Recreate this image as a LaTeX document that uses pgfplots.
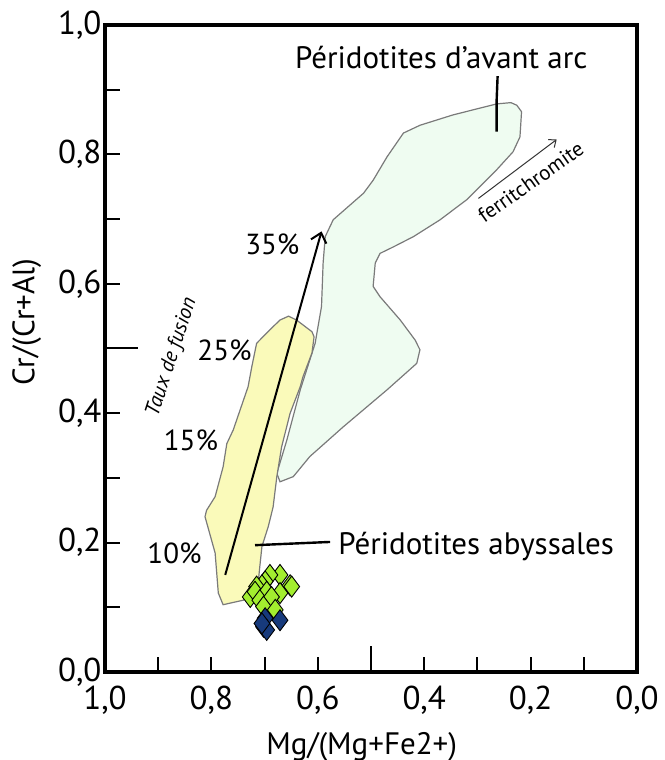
\documentclass[border=0pt]{standalone}
\usepackage{pgfplots}
\pgfplotsset{compat=1.18}
\usepackage{fontspec}
\setmainfont{PT Sans}
\usetikzlibrary{arrows.meta}

\definecolor{yfill}{HTML}{FAFABA}
\definecolor{gfill}{HTML}{EFFCF1}
\definecolor{edge}{HTML}{7A7A7A}
\definecolor{lime}{HTML}{A3EE2F}
\definecolor{navy}{HTML}{173A7C}

\newcommand{\bigfont}{\fontsize{31}{36}\selectfont}
\newcommand{\tickfont}{\fontsize{33}{38}\selectfont}
\newcommand{\midfont}{\fontsize{29}{34}\selectfont}

\begin{document}
\begin{tikzpicture}
\path[use as bounding box] (0,0) rectangle (664pt,760pt);
\begin{axis}[
    at={(105pt,88pt)}, anchor=south west,
    scale only axis, width=532pt, height=647pt,
    x dir=reverse,
    xmin=0, xmax=1, ymin=0, ymax=1,
    xtick={0,0.2,0.4,0.6,0.8,1},
    ytick={0,0.2,0.4,0.6,0.8,1},
    minor xtick={0.1,0.3,0.5,0.7,0.9},
    minor ytick={0.1,0.3,0.5,0.7,0.9},
    extra x ticks={0.5}, extra x tick labels={},
    extra x tick style={major tick length=26pt},
    extra y ticks={0.5}, extra y tick labels={},
    extra y tick style={major tick length=33pt},
    tick pos=left, tick align=inside,
    major tick length=15pt, minor tick length=15pt,
    tick style={black, line width=2pt},
    axis line style={black, line width=3.3pt},
    axis background/.style={draw=black, line width=3.3pt},
    /pgf/number format/use comma,
    /pgf/number format/fixed,
    /pgf/number format/fixed zerofill,
    /pgf/number format/precision=1,
    /pgf/number format/assume math mode=true,
    tick label style={font=\tickfont},
    xticklabel style={yshift=-10pt},
    label style={font=\bigfont},
    xlabel={Mg/(Mg+Fe2+)},
    ylabel={Cr/(Cr+Al)},
    xlabel style={at={(axis description cs:0.4825,-0.115)}, anchor=center},
    ylabel style={at={(axis description cs:-0.147,0.541)}, anchor=center},
]

% champ des peridotites d'avant arc
\addplot[draw=edge, line width=1.2pt, fill=gfill] coordinates {
    (0.671,0.294) (0.677,0.307) (0.658,0.359) (0.633,0.436) (0.605,0.508)
    (0.593,0.565) (0.590,0.632) (0.586,0.673) (0.571,0.699) (0.546,0.717)
    (0.514,0.740) (0.496,0.760) (0.470,0.796) (0.439,0.833) (0.408,0.845)
    (0.346,0.861) (0.264,0.878) (0.237,0.880) (0.226,0.876) (0.217,0.866)
    (0.220,0.827) (0.233,0.804) (0.264,0.776) (0.320,0.730) (0.370,0.699)
    (0.420,0.673) (0.458,0.657) (0.483,0.647) (0.492,0.632) (0.496,0.596)
    (0.483,0.580) (0.445,0.544) (0.417,0.513) (0.408,0.498) (0.414,0.477)
    (0.470,0.436) (0.552,0.379) (0.615,0.333) (0.646,0.302)
} -- cycle;

% champ des peridotites abyssales
\addplot[draw=edge, line width=1.2pt, fill=yfill] coordinates {
    (0.655,0.550) (0.640,0.544) (0.611,0.526) (0.607,0.518) (0.611,0.493)
    (0.628,0.456) (0.633,0.441) (0.652,0.400) (0.668,0.348) (0.677,0.302)
    (0.684,0.255) (0.693,0.225) (0.705,0.194) (0.709,0.163) (0.712,0.138)
    (0.740,0.111) (0.778,0.104) (0.787,0.122) (0.793,0.184) (0.812,0.240)
    (0.809,0.250) (0.793,0.271) (0.778,0.317) (0.771,0.353) (0.759,0.374)
    (0.731,0.441) (0.724,0.472) (0.715,0.508) (0.690,0.529) (0.671,0.544)
} -- cycle;

% taux de fusion
\addplot[black, line width=2pt, -{Straight Barb[length=9pt, width=16pt, line width=2pt]}]
    coordinates {(0.774,0.150) (0.593,0.681)};

% ferritchromite
\addplot[black!80, line width=1pt, -{Straight Barb[length=6pt, width=10pt]}]
    coordinates {(0.298,0.732) (0.151,0.823)};

% traits de renvoi
\addplot[black, line width=2.4pt] coordinates {(0.262,0.921) (0.264,0.880) (0.264,0.835)};
\addplot[black, line width=2.4pt] coordinates {(0.718,0.196) (0.577,0.201)};

% echantillons
\addplot[only marks, mark=diamond*, mark size=10.5pt,
    mark options={draw=black, line width=0.9pt, fill=lime}] coordinates {
    (0.671,0.150) (0.652,0.134) (0.690,0.150) (0.699,0.140) (0.705,0.134)
    (0.715,0.132) (0.727,0.116) (0.718,0.124) (0.696,0.124) (0.671,0.122)
    (0.649,0.132) (0.709,0.111) (0.687,0.116) (0.702,0.101) (0.680,0.096)
};
\addplot[only marks, mark=diamond*, mark size=10.5pt,
    mark options={draw=black, line width=0.9pt, fill=navy}] coordinates {
    (0.699,0.083) (0.671,0.080) (0.702,0.070) (0.696,0.065) (0.705,0.075)
};

\node[anchor=base east, font=\midfont] at (axis cs:0.628,0.645) {35\%};
\node[anchor=base east, font=\midfont] at (axis cs:0.718,0.482) {25\%};
\node[anchor=base east, font=\midfont] at (axis cs:0.781,0.343) {15\%};
\node[anchor=base east, font=\midfont] at (axis cs:0.812,0.168) {10\%};
\node[rotate=72, font=\fontsize{21}{24}\selectfont\itshape] at (axis cs:0.874,0.487) {Taux de fusion};
\node[anchor=base, rotate=35, font=\fontsize{21}{24}\selectfont] at (axis cs:0.192,0.748) {ferritchromite};
\node[font=\bigfont] at (axis cs:0.368,0.949) {Péridotites d’avant arc};
\node[anchor=base west, font=\bigfont] at (axis cs:0.568,0.181) {Péridotites abyssales};

\end{axis}
\end{tikzpicture}
\end{document}
